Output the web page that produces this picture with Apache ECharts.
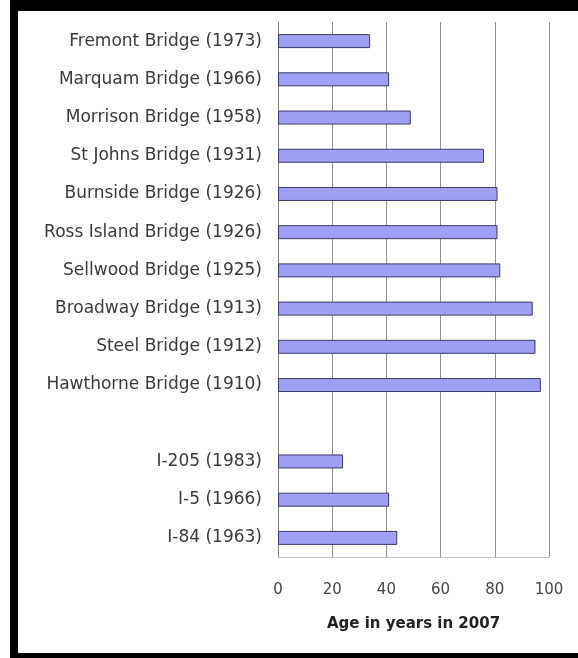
<!DOCTYPE html>
<html>
<head>
<meta charset="utf-8">
<script src="https://cdn.jsdelivr.net/npm/echarts@6/dist/echarts.min.js"></script>
<style>
  html, body { margin: 0; padding: 0; background: #fff; overflow: hidden; }
  #chart { position: absolute; left: 0; top: 0; width: 578px; height: 658px; }
  .frame { position: absolute; background: #000; pointer-events: none; }
</style>
</head>
<body>
<div id="chart"></div>
<div class="frame" style="left:10px; top:0; width:568px; height:11px;"></div>
<div class="frame" style="left:10px; top:0; width:8px; height:658px;"></div>
<div class="frame" style="left:10px; top:653px; width:568px; height:5px;"></div>
<script>
// categories top to bottom, blank slot separates bridges from interstates
var bridgeNames = [
	'Fremont Bridge (1973)', 'Marquam Bridge (1966)', 'Morrison Bridge (1958)',
	'St Johns Bridge (1931)', 'Burnside Bridge (1926)', 'Ross Island Bridge (1926)',
	'Sellwood Bridge (1925)', 'Broadway Bridge (1913)', 'Steel Bridge (1912)',
	'Hawthorne Bridge (1910)', '', 'I-205 (1983)', 'I-5 (1966)', 'I-84 (1963)'
];
var ages = [34, 41, 49, 76, 81, 81, 82, 94, 95, 97, null, 24, 41, 44];
var xTicks = [0, 20, 40, 60, 80, 100];

var chart = echarts.init(document.getElementById('chart'));
chart.setOption({
	animation: false,
	backgroundColor: '#fff',
	grid: { left: 278, top: 22, right: 29, bottom: 101 },
	xAxis: {
		type: 'value',
		min: xTicks[0],
		max: xTicks[xTicks.length - 1],
		interval: 20,
		name: 'Age in years in 2007',
		nameLocation: 'middle',
		nameGap: 60,
		nameTextStyle: { fontFamily: 'DejaVu Sans', fontSize: 15, fontWeight: 'bold', color: '#222' },
		axisLine: { show: true, lineStyle: { color: '#c0c0c0', width: 1 } },
		axisTick: { show: false },
		axisLabel: { margin: 26, fontFamily: 'DejaVu Sans', fontSize: 15, color: '#444' },
		splitLine: { show: true, lineStyle: { color: '#909090', width: 1 } }
	},
	yAxis: {
		type: 'category',
		inverse: true,
		data: bridgeNames,
		axisLine: { show: true, lineStyle: { color: '#808080', width: 1 } },
		axisTick: { show: false },
		axisLabel: { margin: 16, fontFamily: 'DejaVu Sans', fontSize: 17, color: '#3a3a3a' }
	},
	series: [{
		type: 'bar',
		data: ages,
		barWidth: 14,
		itemStyle: { color: '#9f9ff5', borderColor: '#3a3a6a', borderWidth: 1 }
	}]
});
</script>
</body>
</html>
